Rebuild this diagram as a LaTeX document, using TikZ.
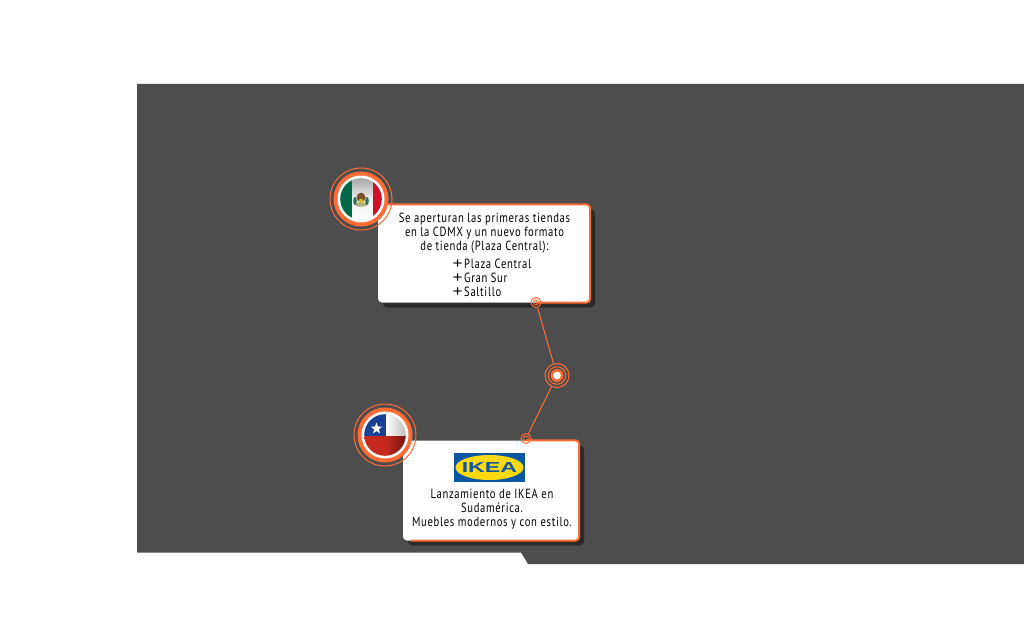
\documentclass[tikz,border=0pt]{standalone}
\usepackage{fontspec}
\setmainfont[FakeStretch=0.80,LetterSpace=5]{PT Sans}
\newfontfamily\logofont[FakeStretch=1.6]{Liberation Sans}
\newfontfamily\plusfont[FakeStretch=1.15]{Liberation Sans}
\usetikzlibrary{shadows,shapes.geometric}
\definecolor{panelc}{HTML}{4D4D4D}
\definecolor{shadowc}{HTML}{2B2B2B}
\definecolor{accent}{HTML}{FF6B35}
\definecolor{ikeablue}{HTML}{0B57A4}
\definecolor{ikeayellow}{HTML}{FFD90F}
\definecolor{mexgreen}{HTML}{006847}
\definecolor{mexred}{HTML}{CE1126}
\definecolor{chblue}{HTML}{1B3F94}
\definecolor{chred}{HTML}{C62A1E}
\definecolor{chdark}{HTML}{6E1410}
\newcommand{\plusmark}{\makebox[11.5pt][l]{\plusfont\fontsize{15}{14}\selectfont +}}
\tikzset{
  x=1pt,y=-1pt,
  infobox/.style={fill=white,rounded corners=4pt,inner sep=0pt,
    drop shadow={shadow xshift=5pt,shadow yshift=-5pt,fill=shadowc,opacity=1}},
  edgeline/.style={draw=accent,line width=2pt,rounded corners=4pt},
  thinring/.style={circle,draw=accent,line width=1pt,fill=none,inner sep=0pt},
  linkline/.style={draw=accent,line width=1pt},
  bodytext/.style={font=\fontsize{13.3}{14}\selectfont,text=black,align=center,inner sep=0pt},
}
\begin{document}
\begin{tikzpicture}
\useasboundingbox (0,0) rectangle (1024,620);
\fill[white] (0,0) rectangle (1024,620);
\fill[panelc] (137,84) -- (1024,84) -- (1024,564) -- (528,564) -- (521,552.5) -- (137,552.5) -- cycle;

% boxes
\node[infobox,minimum width=212pt,minimum height=98pt] (box1) at (484,253.5) {};
\node[infobox,minimum width=176pt,minimum height=100pt] (box2) at (491,490.5) {};

% hub and markers
\node[thinring,minimum size=10pt] (m1) at (536,302.5) {};
\node[thinring,minimum size=10pt] (m2) at (526,438.5) {};
\node[thinring,minimum size=24pt] (hub) at (557,375.5) {};

% orange edges
\draw[edgeline] ([xshift=10pt]box1.north west) -- (box1.north east) -- (box1.south east) -- (m1 |- box1.south);
\draw[edgeline] (m2 |- box2.north) -- (box2.north east) -- (box2.south east) -- ([xshift=8pt]box2.south west);

% markers
\node[thinring,minimum size=5pt,line width=.9pt] at (m1) {};
\node[thinring,minimum size=5pt,line width=.9pt] at (m2) {};
\node[thinring,minimum size=17.5pt] at (hub) {};
\fill[accent] (hub) circle (6.5pt);
\fill[white] (hub) circle (3.8pt);

% connectors
\draw[linkline] (m1) -- (hub);
\draw[linkline] (hub) -- (m2);

% Mexico badge
\coordinate (mx) at (361,199);
\node[thinring,minimum size=62pt] (mxring) at (mx) {};
\fill[accent] (mx) circle (27.5pt);
\fill[white] (mx) circle (23.5pt);
\begin{scope}
\clip (mx) circle (20.8pt);
\fill[mexgreen] (340,178) rectangle (352.5,220);
\shade[top color=gray!70,bottom color=white,middle color=gray!12] (352.5,178) rectangle (372.5,220);
\fill[mexred] (372.5,178) rectangle (383,220);
\end{scope}
\fill[gray!70!yellow] (361,204.5) ellipse (6.5pt and 2.2pt);
\fill[mexgreen!60!gray] (355,201) ellipse (1.8pt and 4pt);
\fill[mexgreen!60!gray] (367,201) ellipse (1.8pt and 4pt);
\fill[brown!65!black] (361,197.5) ellipse (4.5pt and 4.8pt);
\fill[brown!55!yellow] (361,201) ellipse (2.5pt and 2pt);

% Chile badge
\coordinate (cl) at (385,435);
\node[thinring,minimum size=62pt] (clring) at (cl) {};
\fill[accent] (cl) circle (27.5pt);
\fill[white] (cl) circle (23.5pt);
\begin{scope}
\clip (cl) circle (20.8pt);
\shade[left color=white,right color=gray!55] (386,413) rectangle (407,436);
\fill[chblue] (363,413) rectangle (386,436);
\shade[left color=chred,right color=chdark,middle color=chred] (363,436) rectangle (407,457);
\end{scope}
\node[star,star points=5,star point ratio=2.4,fill=white,inner sep=0pt,minimum size=12pt] (clstar) at (376.5,428.5) {};

% IKEA logo
\node[fill=ikeablue,minimum width=71pt,minimum height=29pt,inner sep=0pt] (logo) at (489.5,467.5) {};
\node[ellipse,fill=ikeayellow,minimum width=68pt,minimum height=25pt,inner sep=0pt] (logoring) at (logo) {};
\node[font=\logofont\bfseries\fontsize{14.5}{14}\selectfont,text=ikeablue,inner sep=0pt] (logotext) at (logo) {IKEA};

% texts
\node[bodytext] (t1) at (484.5,233) {Se aperturan las primeras tiendas\\en la CDMX y un nuevo formato\\de tienda (Plaza Central):};
\node[bodytext,align=left,anchor=west] (t2) at (452.5,278) {\plusmark Plaza Central\\\plusmark Gran Sur\\\plusmark Saltillo};
\node[bodytext] (t3) at (492,509) {Lanzamiento de IKEA en\\Sudamérica.\\Muebles modernos y con estilo.};
\end{tikzpicture}
\end{document}
